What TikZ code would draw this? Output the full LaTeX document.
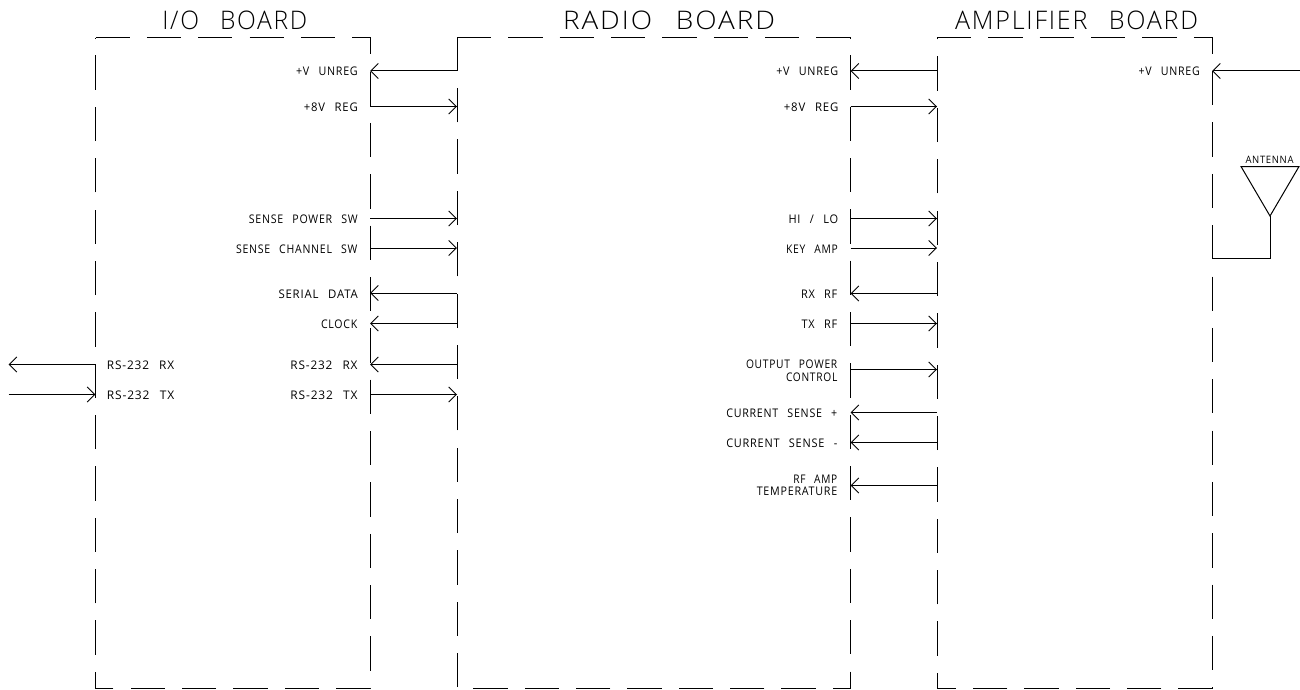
\documentclass[tikz,border=0pt]{standalone}
\usepackage{fontspec}
\usepackage{graphicx}
\usetikzlibrary{arrows.meta}
\newfontfamily\cadfont[LetterSpace=7,WordSpace=2.6]{Open Sans Light}
\newfontfamily\cadlabel[LetterSpace=7,WordSpace=2.6]{Open Sans}
% label text squeezed to the reference's measured width
\newcommand{\lw}[2]{\resizebox{#1pt}{\height}{#2}}
\tikzset{
  board/.style={draw=black,line width=1pt,dash pattern=on 34.25pt off 17.1pt},
  wire/.style={draw=black,line width=1pt},
  sig/.style={wire,-{Straight Barb[length=7.7pt,width=15pt,line width=0.9pt]}},
  ttl/.style={inner sep=0pt,anchor=base,font=\cadfont\fontsize{25.6}{26}\selectfont},
  lbl/.style={inner sep=0pt,anchor=base east,font=\cadlabel\fontsize{11.9}{12.5}\selectfont},
  lbr/.style={inner sep=0pt,anchor=base west,font=\cadlabel\fontsize{11.9}{12.5}\selectfont},
  small/.style={inner sep=0pt,anchor=base,font=\cadlabel\fontsize{10.2}{11}\selectfont},
}
\begin{document}
\begin{tikzpicture}[x=1pt,y=-1pt]
\useasboundingbox (0,0) rectangle (1300,690);
% boards
\coordinate (ioTL) at (95.5,38);  \coordinate (ioTR) at (370,38);  \coordinate (ioBR) at (370,688);  \coordinate (ioBL) at (95.5,688);
\coordinate (raTL) at (457,38);   \coordinate (raTR) at (850.5,38); \coordinate (raBR) at (850.5,688); \coordinate (raBL) at (457,688);
\coordinate (amTL) at (937,38);   \coordinate (amTR) at (1212,38); \coordinate (amBR) at (1212,688); \coordinate (amBL) at (937,688);
\draw[board] (ioTL) -- (ioTR) -- (ioBR) -- (ioBL) -- cycle;
\draw[board] (raTL) -- (raTR) -- (raBR) -- (raBL) -- cycle;
\draw[board] (amTL) -- (amTR) -- (amBR) -- (amBL) -- cycle;
% titles
\node[ttl] (t1) at (234.8,29.3) {\lw{145}{I/O BOARD}};
\node[ttl] (t2) at (669,29.3) {\lw{212}{RADIO BOARD}};
\node[ttl] (t3) at (1076.6,29.3) {\lw{243}{AMPLIFIER BOARD}};
% wire end points between I/O and radio boards
\foreach \n/\y in {a/71,b/106.5,c/218.5,d/248,e/293,f/323.5,g/364.5,h/394.5}{
  \coordinate (ioR\n) at (370,\y);
  \coordinate (raL\n) at (457,\y);
}
\draw[sig] (raLa) -- (ioRa);
\draw[sig] (ioRb) -- (raLb);
\draw[sig] (ioRc) -- (raLc);
\draw[sig] (ioRd) -- (raLd);
\draw[sig] (raLe) -- (ioRe);
\draw[sig] (raLf) -- (ioRf);
\draw[sig] (raLg) -- (ioRg);
\draw[sig] (ioRh) -- (raLh);
% outside the I/O board
\coordinate (ioLg) at (95.5,364.5); \coordinate (ioLh) at (95.5,394.5);
\coordinate (extg) at (8.5,364.5);  \coordinate (exth) at (8.5,394.5);
\draw[sig] (ioLg) -- (extg);
\draw[sig] (exth) -- (ioLh);
% wire end points between radio and amplifier boards
\foreach \n/\y in {a/71,b/106.5,c/218.5,d/248,e/293.5,f/323.5,g/369.5,h/412.5,i/442.5,j/485.5}{
  \coordinate (raR\n) at (850.5,\y);
  \coordinate (amL\n) at (937,\y);
}
\draw[sig] (amLa) -- (raRa);
\draw[sig] (raRb) -- (amLb);
\draw[sig] (raRc) -- (amLc);
\draw[sig] (raRd) -- (amLd);
\draw[sig] (amLe) -- (raRe);
\draw[sig] (raRf) -- (amLf);
\draw[sig] (raRg) -- (amLg);
\draw[sig] (amLh) -- (raRh);
\draw[sig] (amLi) -- (raRi);
\draw[sig] (amLj) -- (raRj);
% amplifier power input
\coordinate (amRa) at (1212,71); \coordinate (extp) at (1300,71);
\draw[sig] (extp) -- (amRa);
% antenna
\coordinate (antL) at (1241,166.5); \coordinate (antR) at (1299,166.5); \coordinate (antA) at (1270,216);
\coordinate (antF) at (1270,258.5); \coordinate (antB) at (1212,258.5);
\draw[wire] (antL) -- (antR) -- (antA) -- cycle;
\draw[wire] (antA) -- (antF) -- (antB);
\node[small] (antenna) at (1269.5,163.3) {\lw{48}{ANTENNA}};
% I/O board labels
\node[lbl] (l1) at (358,76) {\lw{61.7}{+V UNREG}};
\node[lbl] (l2) at (358,111.5) {\lw{54}{+8V REG}};
\node[lbl] (l3) at (358,223.5) {\lw{109}{SENSE POWER SW}};
\node[lbl] (l4) at (357.5,253) {\lw{121.3}{SENSE CHANNEL SW}};
\node[lbl] (l5) at (358,298) {\lw{79.3}{SERIAL DATA}};
\node[lbl] (l6) at (357.5,328) {\lw{36.3}{CLOCK}};
\node[lbl] (l7) at (357.7,369.5) {\lw{67}{RS-232 RX}};
\node[lbl] (l8) at (357.7,399.3) {\lw{67}{RS-232 TX}};
\node[lbr] (l9) at (106.7,369.5) {\lw{67.3}{RS-232 RX}};
\node[lbr] (l10) at (106.7,399.3) {\lw{67.3}{RS-232 TX}};
% radio board labels
\node[lbl] (r1) at (838.5,76) {\lw{62}{+V UNREG}};
\node[lbl] (r2) at (838.5,111.5) {\lw{54.4}{+8V REG}};
\node[lbl] (r3) at (838.5,223.5) {\lw{49.8}{HI / LO}};
\node[lbl] (r4) at (838,253) {\lw{51.7}{KEY AMP}};
\node[lbl] (r5) at (837.5,298) {\lw{36.3}{RX RF}};
\node[lbl] (r6) at (837.5,328.3) {\lw{35.7}{TX RF}};
\node[lbl,align=right,anchor=east] (r7) at (837.5,370.5) {\lw{91.3}{OUTPUT POWER}\\\lw{51.3}{CONTROL}};
\node[lbl] (r8) at (837.5,417.7) {\lw{111}{CURRENT SENSE +}};
\node[lbl] (r9) at (837.5,447.3) {\lw{111}{CURRENT SENSE -}};
\node[lbl,align=right,anchor=east] (r10) at (837.5,485.5) {\lw{44}{RF AMP}\\\lw{80.5}{TEMPERATURE}};
% amplifier board label
\node[lbl] (a1) at (1200,76) {\lw{61.3}{+V UNREG}};
\end{tikzpicture}
\end{document}
